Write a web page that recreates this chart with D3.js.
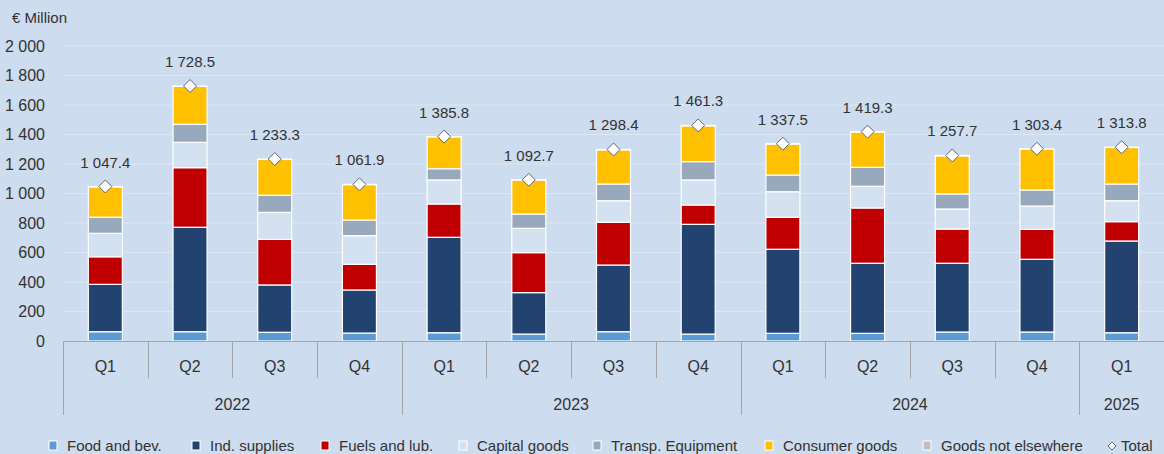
<!DOCTYPE html>
<html><head><meta charset="utf-8">
<script src="https://cdn.jsdelivr.net/npm/d3@7"></script>
<style>
html,body{margin:0;padding:0;background:#cddcee;}
svg{display:block;font-family:"Liberation Sans",Arial,sans-serif;}
</style></head>
<body><svg id="c" width="1164" height="454"></svg>
<script>
const quarters = ["Q1","Q2","Q3","Q4","Q1","Q2","Q3","Q4","Q1","Q2","Q3","Q4","Q1"];
const years = ["2022","2022","2022","2022","2023","2023","2023","2023","2024","2024","2024","2024","2025"];
const foodBev      = [63, 63, 59, 54, 56, 47, 63, 47, 52, 52, 61, 61, 56];
const indSupplies  = [321, 708, 321, 292, 647, 281, 452, 744, 570, 475, 466, 493, 622];
const fuelsLub     = [187, 404, 309, 174, 226, 271, 290, 131, 217, 375, 232, 203, 131];
const capitalGoods = [159, 172, 183, 194, 163, 165, 146, 170, 173, 147, 136, 158, 142];
const transpEquip  = [109, 122, 116, 106, 76, 97, 113, 124, 113, 128, 102, 109, 113];
const consumerGoods= [206, 257, 243, 240, 216, 230, 232, 243, 210, 240, 258, 277, 248];
const goodsNec     = [2.4, 2.5, 2.3, 1.9, 1.8, 1.7, 2.4, 2.3, 2.5, 2.3, 2.7, 2.4, 1.8];
const totals       = [1047.4, 1728.5, 1233.3, 1061.9, 1385.8, 1092.7, 1298.4, 1461.3, 1337.5, 1419.3, 1257.7, 1303.4, 1313.8];
const yTicks = [0, 200, 400, 600, 800, 1000, 1200, 1400, 1600, 1800, 2000];

const seriesNames = ["Food and bev.","Ind. supplies","Fuels and lub.","Capital goods","Transp. Equipment","Consumer goods","Goods not elsewhere"];
const seriesVals = [foodBev, indSupplies, fuelsLub, capitalGoods, transpEquip, consumerGoods, goodsNec];
const colors = ["#5b9bd5","#22426f","#c00000","#d3e1f0","#98a8bd","#ffc000","#bfbfbf"];

const svg = d3.select("#c");
const x0 = 63, x1 = 1164;
const idx = d3.range(quarters.length);
const x = d3.scaleBand().domain(idx).range([x0, x1]).paddingInner(0).paddingOuter(0);
const y = d3.scaleLinear().domain([0, 2000]).range([341, 46]);
const fmt = v => d3.format(",.1f")(v).replace(/,/g, " ");
const fmtTick = v => d3.format(",")(v).replace(/,/g, " ");
const diamondPath = r => `M0,${-r}L${r},0L0,${r}L${-r},0Z`;

// gridlines
svg.append("g").selectAll("line").data(yTicks.filter(t=>t>0)).join("line")
  .attr("x1", x0).attr("x2", x1).attr("y1", d=>y(d)).attr("y2", d=>y(d))
  .attr("stroke", "#dde7f3").attr("stroke-width", 1);

// y axis labels
const yAxis = d3.axisLeft(y).tickValues(yTicks).tickFormat(fmtTick).tickSize(0).tickPadding(0);
const ga = svg.append("g").attr("transform", "translate(45,0)").call(yAxis);
ga.select(".domain").remove();
ga.selectAll("text").attr("font-size", 16).attr("fill", "#333").attr("font-family", "Liberation Sans, Arial, sans-serif");

svg.append("text").attr("x", 12).attr("y", 23).attr("font-size", 15).attr("fill", "#333").text("€ Million");

// stacked bars
const data = idx.map(i => {
  const o = {i};
  seriesNames.forEach((n, k) => o[n] = seriesVals[k][i]);
  return o;
});
const stack = d3.stack().keys(seriesNames)(data);
const bw = 34;
svg.append("g").selectAll("g").data(stack).join("g")
  .attr("fill", (d, k) => colors[k])
  .selectAll("rect").data(d => d).join("rect")
  .attr("x", d => x(d.data.i) + x.bandwidth()/2 - bw/2)
  .attr("width", bw)
  .attr("y", d => y(d[1]))
  .attr("height", d => Math.max(0, y(d[0]) - y(d[1])))
  .attr("stroke", "#ffffff").attr("stroke-width", 1.2);

// total markers
svg.append("g").selectAll("path").data(idx).join("path")
  .attr("transform", i => `translate(${x(i)+x.bandwidth()/2},${y(totals[i])})`)
  .attr("d", diamondPath(6.5))
  .attr("fill", "#fff").attr("stroke", "#5a6678").attr("stroke-width", 1);

svg.append("g").selectAll("text").data(idx).join("text")
  .attr("x", i => x(i)+x.bandwidth()/2).attr("y", i => y(totals[i]) - 19)
  .attr("text-anchor", "middle").attr("font-size", 15).attr("fill", "#333")
  .text(i => fmt(totals[i]));

// x axis
const ax = svg.append("g");
ax.append("line").attr("x1", x0).attr("x2", x1).attr("y1", 341.5).attr("y2", 341.5).attr("stroke", "#a6a6a6");
idx.forEach(i => {
  const xl = Math.round(x(i)) + 0.5;
  const newYear = i === 0 || years[i] !== years[i-1];
  ax.append("line").attr("x1", xl).attr("x2", xl).attr("y1", 341).attr("y2", newYear ? 415 : 378).attr("stroke", "#a6a6a6");
  ax.append("text").attr("x", x(i)+x.bandwidth()/2).attr("y", 372).attr("text-anchor","middle")
    .attr("font-size", 16).attr("fill", "#333").text(quarters[i]);
});
const yearGroups = d3.groups(idx, i => years[i]);
yearGroups.forEach(([yr, arr]) => {
  const a = x(arr[0]), b = x(arr[arr.length-1]) + x.bandwidth();
  ax.append("text").attr("x", (a+b)/2).attr("y", 410).attr("text-anchor","middle")
    .attr("font-size", 16).attr("fill", "#333").text(yr);
});

// legend
const legX = [49, 192, 321, 459, 593, 765, 923];
const lg = svg.append("g");
seriesNames.forEach((n, k) => {
  lg.append("rect").attr("x", legX[k]).attr("y", 441).attr("width", 8).attr("height", 9)
    .attr("fill", colors[k]).attr("stroke", "#fff").attr("stroke-width", 1);
  lg.append("text").attr("x", legX[k] + 18).attr("y", 451).attr("font-size", 15).attr("fill", "#333").text(n);
});
lg.append("path").attr("transform", "translate(1112,446)").attr("d", diamondPath(4))
  .attr("fill", "#fff").attr("stroke", "#5a6678");
lg.append("text").attr("x", 1121).attr("y", 451).attr("font-size", 15).attr("fill", "#333").text("Total");
</script></body></html>
